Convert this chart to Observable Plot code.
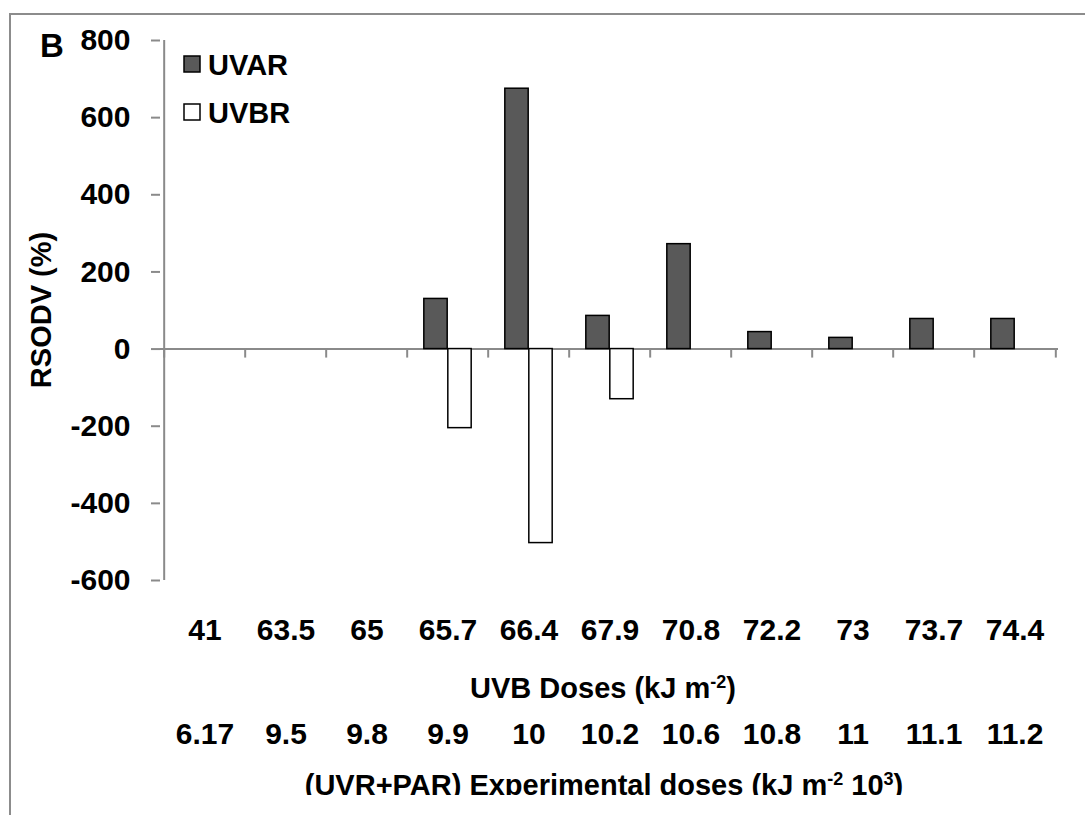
<!DOCTYPE html>
<html><head><meta charset="utf-8">
<script src="https://cdn.jsdelivr.net/npm/d3@7"></script>
<script src="https://cdn.jsdelivr.net/npm/@observablehq/plot@0.6"></script>
<style>
body{margin:0;background:#fff;}
#wrap{position:relative;width:1085px;height:815px;overflow:hidden;font-family:"Liberation Sans",Arial,sans-serif;}
#wrap svg{position:absolute;left:0;top:0;}
#border{position:absolute;left:9px;top:13px;width:1200px;height:1000px;border-left:2px solid #8c8c8c;border-top:2px solid #8c8c8c;z-index:2;pointer-events:none;}
</style></head><body><div id="wrap"><div id="border"></div></div>
<script>
const uvbDoses = ["41","63.5","65","65.7","66.4","67.9","70.8","72.2","73","73.7","74.4"];
const experimentalDoses = ["6.17","9.5","9.8","9.9","10","10.2","10.6","10.8","11","11.1","11.2"];
const uvarValues = [null,null,null,130,675,86,272,44,29,78,78];
const uvbrValues = [null,null,null,-205,-503,-130,null,null,null,null,null];
const yTicks = [-600,-400,-200,0,200,400,600,800];
const seriesNames = ["UVAR","UVBR"];
const panelLetter = "B";
const yLabel = "RSODV (%)";

const W = 1085, H = 815, mL = 160, mR = 27, mT = 40, mB = 235;
const bw = (W - mL - mR) / uvbDoses.length;
const barW = 24;
const axisGray = "#8a8a8a";
const fs = 30;
const fsTitle = 29;

const uvar = uvbDoses.map((d, i) => ({dose: d, value: uvarValues[i]})).filter(d => d.value != null);
const uvbr = uvbDoses.map((d, i) => ({dose: d, value: uvbrValues[i]})).filter(d => d.value != null);
const expMap = new Map(uvbDoses.map((d, i) => [d, experimentalDoses[i]]));

const plot = Plot.plot({
  width: W, height: H,
  marginLeft: mL, marginRight: mR, marginTop: mT, marginBottom: mB,
  style: {fontFamily: '"Liberation Sans", Arial, sans-serif', fontSize: fs + "px", fontWeight: "bold", background: "transparent", color: "#000"},
  x: {type: "band", domain: uvbDoses, padding: 0},
  y: {domain: [-600, 800]},
  marks: [
    Plot.ruleY([0], {stroke: axisGray, strokeWidth: 2}),
    Plot.ruleX(uvbDoses, {x: d => d, y1: 0, y2: 0, insetBottom: -9, dx: -bw / 2, stroke: axisGray, strokeWidth: 2}),
    Plot.ruleX(uvbDoses.slice(-1), {x: d => d, y1: 0, y2: 0, insetBottom: -9, dx: bw / 2, stroke: axisGray, strokeWidth: 2}),
    Plot.ruleX(uvbDoses.slice(0, 1), {x: d => d, y1: -600, y2: 800, dx: -bw / 2, stroke: axisGray, strokeWidth: 2}),
    Plot.barY(uvar, {x: "dose", y: "value", fill: "#595959", stroke: "#000", strokeWidth: 1.5, insetLeft: bw / 2 - barW, insetRight: bw / 2}),
    Plot.barY(uvbr, {x: "dose", y: "value", fill: "#fff", stroke: "#000", strokeWidth: 1.5, insetLeft: bw / 2, insetRight: bw / 2 - barW}),
    Plot.axisY({ticks: yTicks, tickSize: 9, tickPadding: 21, stroke: axisGray, strokeWidth: 2, fill: "#000", fontSize: fs, fontWeight: "bold", label: null, tickFormat: d => String(d)}),
    Plot.axisX({anchor: "bottom", tickSize: 0, tickPadding: 38, fontSize: fs, fontWeight: "bold", label: null, fill: "#000"}),
    Plot.axisX({anchor: "bottom", tickSize: 0, tickPadding: 142, fontSize: fs, fontWeight: "bold", label: null, fill: "#000", tickFormat: d => expMap.get(d)})
  ]
});
document.getElementById("wrap").prepend(plot);

const svg = d3.select(plot);
const ff = '"Liberation Sans", Arial, sans-serif';
function addText(x, y, size, parts, opts = {}) {
  const t = svg.append("text").attr("x", x).attr("y", y)
    .attr("font-family", ff).attr("font-weight", "bold").attr("font-size", size).attr("fill", "#000")
    .attr("text-anchor", opts.anchor || "start");
  if (opts.transform) t.attr("transform", opts.transform);
  parts.forEach(p => {
    const s = t.append("tspan").text(p.t);
    if (p.sup) s.attr("baseline-shift", "super").attr("font-size", Math.round(size * 0.62));
  });
  return t;
}
// panel letter
addText(40, 57, 33, [{t: panelLetter}]);
// y label
addText(0, 0, fsTitle, [{t: yLabel}], {anchor: "middle", transform: "translate(51,310) rotate(-90)"});
// legend
const legendFill = ["#595959", "#fff"];
seriesNames.forEach((name, i) => {
  svg.append("rect").attr("x", 184).attr("y", 56 + i * 48).attr("width", 16).attr("height", 16)
    .attr("fill", legendFill[i]).attr("stroke", "#000").attr("stroke-width", 1.5);
  addText(208, 75 + i * 48, fsTitle, [{t: name}]);
});
// axis titles
addText(603, 698, fsTitle, [{t: "UVB Doses (kJ m"}, {t: "-2", sup: true}, {t: ")"}], {anchor: "middle"});
addText(604, 795, fsTitle, [{t: "(UVR+PAR) Experimental doses (kJ m"}, {t: "-2", sup: true}, {t: " 10"}, {t: "3", sup: true}, {t: ")"}], {anchor: "middle"});
svg.append("rect").attr("x", 12).attr("y", 795).attr("width", W).attr("height", 30).attr("fill", "#fff");
</script></body></html>
